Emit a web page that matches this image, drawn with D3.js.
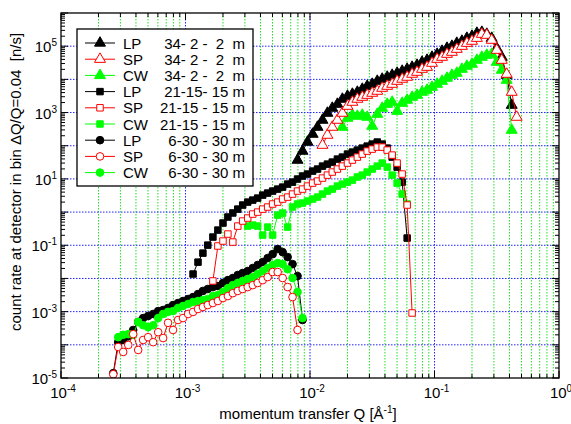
<!DOCTYPE html>
<html>
<head>
<meta charset="utf-8">
<script src="https://cdn.jsdelivr.net/npm/d3@7"></script>
<style>
  body { margin: 0; background: #fff; }
  text { font-family: "Liberation Sans", Arial, sans-serif; fill: #000; }
</style>
</head>
<body>
<svg id="chart" width="571" height="424"></svg>
<script>
// Q bins (1/Å), shared by all series; each series starts at some bin index
const qBins = [
  2.63e-4, 2.88e-4, 3.16e-4, 3.47e-4, 3.80e-4, 4.17e-4, 4.57e-4, 5.01e-4, 5.50e-4, 6.03e-4,
  6.61e-4, 7.24e-4, 7.94e-4, 8.71e-4, 9.55e-4,
  1.05e-3, 1.15e-3, 1.26e-3, 1.38e-3, 1.51e-3, 1.66e-3, 1.82e-3, 2.00e-3, 2.19e-3, 2.40e-3,
  2.63e-3, 2.88e-3, 3.16e-3, 3.47e-3, 3.80e-3, 4.17e-3, 4.57e-3, 5.01e-3, 5.50e-3, 6.03e-3,
  6.61e-3, 7.24e-3, 7.94e-3, 8.71e-3, 9.55e-3,
  1.05e-2, 1.15e-2, 1.26e-2, 1.38e-2, 1.51e-2, 1.66e-2, 1.82e-2, 2.00e-2, 2.19e-2, 2.40e-2,
  2.63e-2, 2.88e-2, 3.16e-2, 3.47e-2, 3.80e-2, 4.17e-2, 4.57e-2, 5.01e-2, 5.50e-2, 6.03e-2,
  6.61e-2, 7.24e-2, 7.94e-2, 8.71e-2, 9.55e-2,
  0.105, 0.115, 0.126, 0.138, 0.151, 0.166, 0.182, 0.200, 0.219, 0.240,
  0.263, 0.288, 0.316, 0.347, 0.380, 0.417, 0.457
];

// count rates [n/s]
const lp34 = [36.9, 68.9, 129, 224, 364, 592, 962, 1360, 1790, 2540, 3120, 3590, 4120, 5070, 6240,
  7180, 8830, 1.02e4, 1.17e4, 1.34e4, 1.54e4, 1.77e4, 2.03e4, 2.33e4, 2.68e4, 3.30e4, 3.79e4,
  4.67e4, 5.75e4, 7.08e4, 8.71e4, 1.0e5, 1.23e5, 1.42e5, 1.74e5, 2.0e5, 2.47e5, 2.64e5, 2.30e5,
  1.74e5, 8.71e4, 4.67e4, 1.34e4, 1670];
const sp34 = [104, 209, 364, 592, 962, 1560, 2060, 2540, 2910, 3340, 3850, 4420, 5430, 6240, 7180,
  8830, 1.02e4, 1.17e4, 1.44e4, 1.65e4, 2.03e4, 2.33e4, 3.08e4, 4.06e4, 4.67e4, 5.75e4, 6.61e4,
  8.13e4, 1.0e5, 1.23e5, 1.42e5, 1.74e5, 2.30e5, 2.15e5, 1.52e5, 7.59e4, 3.79e4, 1.44e4, 4120, 728];
const cw34 = [364, 679, 836, 780, 836, 728, 390, 895, 1360, 1790, 2060, 1100, 1920, 2370, 2910, 3340,
  4120, 4730, 5820, 7180, 8830, 1.09e4, 1.34e4, 1.54e4, 2.03e4, 2.50e4, 2.88e4, 3.79e4, 4.67e4,
  5.37e4, 5.75e4, 3.30e4, 1.90e4, 9460, 295];

const lp21 = [1.36e-2, 3.1e-2, 5.8e-2, 0.101, 0.177, 0.287, 0.468, 0.71, 0.94, 1.23, 1.63, 2.0, 2.3,
  2.64, 3.25, 3.74, 4.3, 4.93, 5.66, 6.98, 8.0, 9.9, 12.2, 14.0, 17.2, 19.8, 24.3, 27.9, 32.1, 39.5,
  45.4, 56.0, 64.3, 73.8, 84.7, 97.3, 112, 129, 112, 84.7, 45.4, 22.7, 8.0, 0.165];
const sp21 = [8.4e-3, 9.5e-2, 0.134, 0.218, 0.125, 0.379, 0.537, 0.661, 0.871, 1.0, 1.23, 1.42, 1.75,
  2.0, 2.47, 2.83, 3.49, 4.3, 4.93, 6.08, 7.48, 8.6, 10.6, 13.0, 16.1, 19.8, 24.3, 30.0, 36.9, 45.4,
  56.0, 68.9, 79.1, 90.8, 90.8, 73.8, 52.2, 30.0, 14.0, 1.63, 9.1e-4];
const cw21 = [0.379, 0.406, 0.379, 0.203, 0.353, 0.203, 0.813, 0.935, 0.353, 1.42, 1.75, 1.87, 2.15,
  2.47, 2.83, 3.49, 4.3, 4.93, 6.08, 6.98, 8.0, 9.2, 11.4, 13.0, 16.1, 19.8, 24.3, 30.0, 22.7, 13.0,
  7.48, 3.49, 1.75];

const lp6 = [1.4e-5, 1.2e-4, 1.4e-4, 1.8e-4, 2.8e-4, 4.9e-4, 6.4e-4, 7.4e-4, 8.5e-4, 1.04e-3, 1.12e-3,
  1.29e-3, 1.58e-3, 1.82e-3, 2.09e-3, 2.4e-3, 2.75e-3, 3.4e-3, 4.2e-3, 4.8e-3, 5.5e-3, 5.9e-3, 7.3e-3,
  8.9e-3, 1.03e-2, 1.27e-2, 1.46e-2, 1.67e-2, 2.06e-2, 2.54e-2, 3.1e-2, 4.1e-2, 5.4e-2, 7.7e-2,
  6.2e-2, 4.4e-2, 2.7e-2, 1.18e-2, 5.6e-4];
const sp6 = [1.3e-5, 8.6e-5, 6.1e-5, 9.9e-5, 2.1e-4, 7.0e-5, 1.4e-4, 1.7e-4, 1.2e-4, 2.4e-4, 1.6e-4,
  4.6e-4, 2.8e-4, 5.6e-4, 6.4e-4, 8.5e-4, 9.8e-4, 1.2e-3, 1.38e-3, 1.58e-3, 1.82e-3, 2.09e-3, 2.57e-3,
  2.95e-3, 3.6e-3, 4.2e-3, 4.8e-3, 5.5e-3, 6.3e-3, 7.3e-3, 8.9e-3, 1.1e-2, 1.56e-2, 1.56e-2, 1.03e-2,
  5.5e-3, 2.75e-3, 2.8e-4];
const cw6 = [1.7e-4, 2.0e-4, 2.1e-4, 2.0e-4, 4.9e-4, 3.9e-4, 3.4e-4, 3.9e-4, 6.4e-4, 8.5e-4, 9.8e-4,
  1.04e-3, 1.29e-3, 1.48e-3, 1.7e-3, 1.95e-3, 2.09e-3, 2.24e-3, 2.4e-3, 2.95e-3, 3.16e-3, 3.9e-3,
  5.1e-3, 6.3e-3, 7.3e-3, 8.4e-3, 9.6e-3, 1.1e-2, 1.36e-2, 1.67e-2, 2.06e-2, 2.54e-2, 2.9e-2, 2.7e-2,
  1.9e-2, 1.03e-2, 3.9e-3, 6.4e-4];

// legend entries, in legend order
const series = [
  { mode: 'LP', cfg: '34- 2 -  2  m', start: 37, values: lp34, color: '#000', shape: d3.symbolTriangle, open: false },
  { mode: 'SP', cfg: '34- 2 -  2  m', start: 42, values: sp34, color: '#ff0000', shape: d3.symbolTriangle, open: true },
  { mode: 'CW', cfg: '34- 2 -  2  m', start: 46, values: cw34, color: '#00ff00', shape: d3.symbolTriangle, open: false },
  { mode: 'LP', cfg: '21-15- 15 m', start: 16, values: lp21, color: '#000', shape: d3.symbolSquare, open: false },
  { mode: 'SP', cfg: '21-15 - 15 m', start: 20, values: sp21, color: '#ff0000', shape: d3.symbolSquare, open: true },
  { mode: 'CW', cfg: '21-15 - 15 m', start: 27, values: cw21, color: '#00ff00', shape: d3.symbolSquare, open: false },
  { mode: 'LP', cfg: '6-30 - 30 m', start: 0, values: lp6, color: '#000', shape: d3.symbolCircle, open: false },
  { mode: 'SP', cfg: '6-30 - 30 m', start: 0, values: sp6, color: '#ff0000', shape: d3.symbolCircle, open: true },
  { mode: 'CW', cfg: '6-30 - 30 m', start: 1, values: cw6, color: '#00ff00', shape: d3.symbolCircle, open: false }
];
const drawOrder = [6, 8, 7, 3, 5, 4, 0, 2, 1];

const width = 571, height = 424;
const margin = { left: 61, right: 12, top: 13, bottom: 46 };
const svg = d3.select('#chart');

const xScale = d3.scaleLog().domain([1e-4, 1]).range([margin.left, width - margin.right]);
const yScale = d3.scaleLog().domain([1e-5, 1e6]).range([height - margin.bottom, margin.top]);
const [x0, x1] = xScale.range();
const [y0, y1] = yScale.range();

const symbolSize = s => s === d3.symbolTriangle ? 52 : s === d3.symbolSquare ? 42 : 46;

// tick positions: 1..9 times each decade
const minorVals = (lo, hi) => {
  const out = [];
  for (let e = lo; e < hi; e++) for (let m = 1; m < 10; m++) out.push(m * Math.pow(10, e));
  out.push(Math.pow(10, hi));
  return out;
};
const isDecade = v => Math.abs(Math.log10(v) - Math.round(Math.log10(v))) < 1e-9;
const xVals = minorVals(-4, 0);
const yVals = minorVals(-5, 6);

// grid
const grid = svg.append('g').attr('class', 'grid');
grid.selectAll('.vgrid').data(xVals.filter(v => v > 1e-4 && v < 1))
  .enter().append('line')
    .attr('x1', d => xScale(d)).attr('x2', d => xScale(d))
    .attr('y1', y1).attr('y2', y0)
    .attr('stroke', d => isDecade(d) ? '#2222ff' : '#22e022')
    .attr('stroke-width', 1)
    .attr('stroke-dasharray', '1.5,1.5');
grid.selectAll('.hgrid').data(yVals.filter(v => isDecade(v) && v > 1e-5 && v < 1e6))
  .enter().append('line')
    .attr('x1', x0).attr('x2', x1)
    .attr('y1', d => yScale(d)).attr('y2', d => yScale(d))
    .attr('stroke', '#2222ff')
    .attr('stroke-width', 1)
    .attr('stroke-dasharray', '1.5,1.5');

// data
svg.append('clipPath').attr('id', 'plot-clip')
  .append('rect').attr('x', x0).attr('y', y1).attr('width', x1 - x0).attr('height', y0 - y1);
const plot = svg.append('g').attr('clip-path', 'url(#plot-clip)');
const line = d3.line().x(d => xScale(d.q)).y(d => yScale(d.v));

drawOrder.forEach(i => {
  const s = series[i];
  const pts = s.values.map((v, j) => ({ q: qBins[s.start + j], v }));
  const g = plot.append('g');
  g.append('path').datum(pts)
    .attr('d', line)
    .attr('fill', 'none')
    .attr('stroke', s.color)
    .attr('stroke-width', 1);
  g.selectAll('path.mark').data(pts)
    .enter().append('path')
      .attr('class', 'mark')
      .attr('transform', d => `translate(${xScale(d.q)},${yScale(d.v)})`)
      .attr('d', d3.symbol(s.shape, symbolSize(s.shape)))
      .attr('fill', s.open ? '#fff' : s.color)
      .attr('stroke', s.color)
      .attr('stroke-width', 1);
});

// frame and ticks
const axes = svg.append('g').attr('stroke', '#000').attr('stroke-width', 1);
xVals.forEach(v => {
  const len = isDecade(v) ? 7 : 4;
  const x = xScale(v);
  axes.append('line').attr('x1', x).attr('x2', x).attr('y1', y0).attr('y2', y0 - len);
  axes.append('line').attr('x1', x).attr('x2', x).attr('y1', y1).attr('y2', y1 + len);
});
yVals.forEach(v => {
  const len = isDecade(v) ? 7 : 4;
  const y = yScale(v);
  axes.append('line').attr('x1', x0).attr('x2', x0 + len).attr('y1', y).attr('y2', y);
  axes.append('line').attr('x1', x1).attr('x2', x1 - len).attr('y1', y).attr('y2', y);
});
svg.append('rect')
  .attr('x', x0).attr('y', y1).attr('width', x1 - x0).attr('height', y0 - y1)
  .attr('fill', 'none').attr('stroke', '#000').attr('stroke-width', 1.3);

// tick labels
const powLabel = (sel, exp) => {
  sel.append('tspan').text('10');
  sel.append('tspan').attr('dy', -6).attr('font-size', 10).text(exp);
};
[-4, -3, -2, -1, 0].forEach(e => {
  svg.append('text')
    .attr('x', xScale(Math.pow(10, e)) + 2).attr('y', 398)
    .attr('text-anchor', 'middle').attr('font-size', 15)
    .call(powLabel, e);
});
[-5, -3, -1, 1, 3, 5].forEach(e => {
  svg.append('text')
    .attr('x', 57).attr('y', yScale(Math.pow(10, e)) + 6)
    .attr('text-anchor', 'end').attr('font-size', 15)
    .call(powLabel, e);
});

// axis titles
const xTitle = svg.append('text')
  .attr('x', 308).attr('y', 419)
  .attr('text-anchor', 'middle').attr('font-size', 15);
xTitle.append('tspan').text('momentum transfer Q [Å');
xTitle.append('tspan').attr('dy', -6).attr('font-size', 10).text('-1');
xTitle.append('tspan').attr('dy', 6).text(']');

svg.append('text')
  .attr('transform', 'translate(21,182) rotate(-90)')
  .attr('text-anchor', 'middle').attr('font-size', 15)
  .style('white-space', 'pre')
  .text('count rate at detector in bin ΔQ/Q=0.04  [n/s]');

// legend
const legend = svg.append('g');
legend.append('rect')
  .attr('x', 77).attr('y', 29).attr('width', 176).attr('height', 157)
  .attr('fill', '#fff').attr('stroke', '#000').attr('stroke-width', 1.3);
series.forEach((s, i) => {
  const cy = 43 + i * 16.2;
  legend.append('line')
    .attr('x1', 85).attr('x2', 115).attr('y1', cy).attr('y2', cy)
    .attr('stroke', s.color).attr('stroke-width', 1);
  legend.append('path')
    .attr('transform', `translate(100,${cy})`)
    .attr('d', d3.symbol(s.shape, symbolSize(s.shape)))
    .attr('fill', s.open ? '#fff' : s.color)
    .attr('stroke', s.color);
  legend.append('text')
    .attr('x', 123).attr('y', cy + 5.5).attr('font-size', 15)
    .text(s.mode);
  legend.append('text')
    .attr('x', 245).attr('y', cy + 5.5).attr('font-size', 15)
    .attr('text-anchor', 'end')
    .style('white-space', 'pre')
    .text(s.cfg);
});
</script>
</body>
</html>
